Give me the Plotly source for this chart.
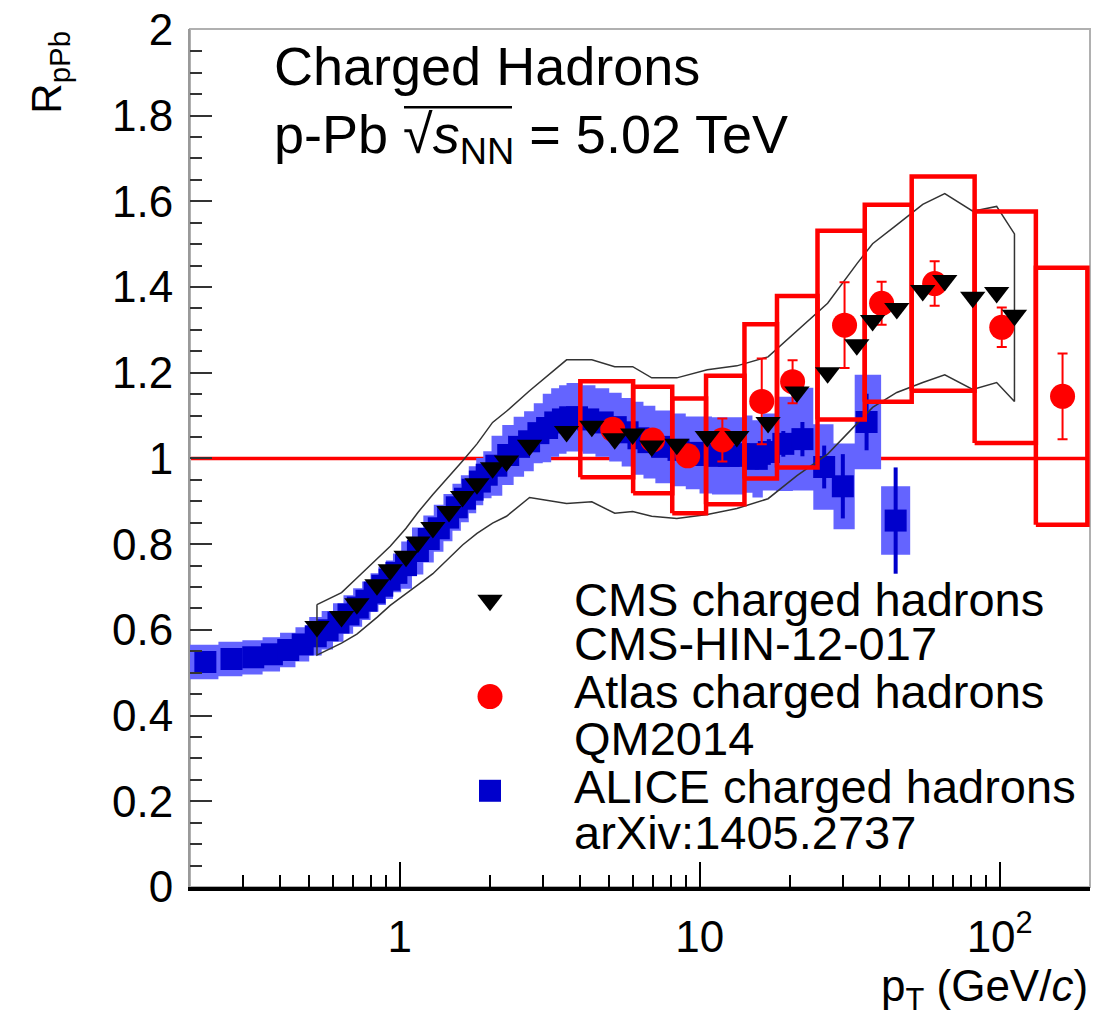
import math
import plotly.graph_objects as go

# ---------------- data ----------------
# CMS charged hadrons (CMS-HIN-12-017)
cms_pt = [0.53, 0.64, 0.72, 0.84, 0.93, 1.05, 1.15, 1.29, 1.46, 1.62, 1.81, 2.04, 2.27, 2.71,
          3.6, 4.37, 5.21, 5.98, 6.92, 8.39, 10.6, 13.3, 16.9, 21.1, 26.7, 33.4, 37.7, 45.4,
          55.4, 65.6, 81.3, 97.7, 112]
cms_rppb = [0.608, 0.631, 0.661, 0.705, 0.740, 0.772, 0.805, 0.839, 0.876, 0.911, 0.941, 0.978,
            0.994, 1.031, 1.063, 1.075, 1.046, 1.057, 1.029, 1.033, 1.051, 1.051, 1.084, 1.155,
            1.200, 1.265, 1.322, 1.350, 1.392, 1.415, 1.376, 1.387, 1.334]
# upper / lower edge of the CMS uncertainty envelope
cms_band_hi = [0.659, 0.687, 0.721, 0.765, 0.795, 0.837, 0.874, 0.916, 0.957, 0.994, 1.034, 1.084,
               1.110, 1.158, 1.230, 1.230, 1.214, 1.214, 1.188, 1.188, 1.207, 1.216, 1.237, 1.297,
               1.362, 1.454, 1.501, 1.545, 1.593, 1.618, 1.577, 1.588, 1.524]
cms_band_lo = [0.541, 0.569, 0.590, 0.629, 0.657, 0.684, 0.705, 0.731, 0.768, 0.798, 0.825, 0.849,
               0.865, 0.909, 0.895, 0.899, 0.872, 0.876, 0.865, 0.860, 0.869, 0.883, 0.906, 0.960,
               1.010, 1.080, 1.119, 1.154, 1.177, 1.195, 1.161, 1.177, 1.133]

# ATLAS charged hadrons (QM2014)
atlas_pt = [5.13, 6.97, 9.12, 11.9, 16.1, 20.4, 30.4, 40.4, 60.7, 101.6, 162]
atlas_rppb = [1.068, 1.043, 1.006, 1.043, 1.133, 1.179, 1.311, 1.362, 1.408, 1.306, 1.145]
atlas_stat = [0.02, 0.02, 0.02, 0.05, 0.10, 0.05, 0.10, 0.05, 0.052, 0.046, 0.10]
atlas_syst = [0.112, 0.124, 0.134, 0.15, 0.18, 0.20, 0.22, 0.23, 0.25, 0.27, 0.30]
atlas_bin_edges = [4.0, 6.0, 8.1, 10.5, 14.1, 18.1, 24.7, 35.5, 50.9, 82.5, 132, 196]

# ALICE charged hadrons (arXiv:1405.2737)
alice_pt = [0.175, 0.225, 0.275, 0.325, 0.375, 0.425, 0.475, 0.525, 0.575, 0.625, 0.675, 0.725,
            0.775, 0.825, 0.875, 0.925, 0.975, 1.05, 1.15, 1.25, 1.35, 1.45, 1.55, 1.65, 1.75,
            1.85, 1.95, 2.1, 2.3, 2.5, 2.7, 2.9, 3.1, 3.3, 3.5, 3.7, 3.9, 4.25, 4.75, 5.25, 5.75,
            6.25, 6.75, 7.5, 8.5, 9.5, 10.5, 11.5, 12.5, 13.5, 14.5, 15.5, 17, 19, 22, 26, 30,
            36, 45]
alice_rppb = [0.525, 0.525, 0.532, 0.536, 0.543, 0.553, 0.566, 0.585, 0.599, 0.617, 0.636, 0.652,
              0.668, 0.687, 0.703, 0.717, 0.733, 0.751, 0.784, 0.812, 0.837, 0.862, 0.886, 0.906,
              0.927, 0.946, 0.962, 0.983, 1.008, 1.027, 1.040, 1.059, 1.071, 1.084, 1.091, 1.096,
              1.096, 1.091, 1.084, 1.073, 1.061, 1.047, 1.038, 1.027, 1.020, 1.013, 1.008, 1.006,
              1.006, 1.006, 1.010, 0.999, 1.015, 1.034, 1.045, 0.980, 0.935, 1.085, 0.855]
alice_stat = [0.005] * 46 + [0.02, 0.02, 0.02, 0.02, 0.025, 0.025, 0.03, 0.03, 0.04, 0.05, 0.075,
                             0.066, 0.124]
alice_syst = [0.04, 0.04, 0.04, 0.04, 0.04, 0.04, 0.04, 0.045, 0.045, 0.045, 0.045, 0.045, 0.045,
              0.045, 0.045, 0.045, 0.045, 0.055, 0.055, 0.055, 0.055, 0.055, 0.055, 0.055, 0.055,
              0.055, 0.055, 0.07, 0.07, 0.07, 0.07, 0.07, 0.08, 0.08, 0.08, 0.08, 0.08, 0.08, 0.08,
              0.08, 0.08, 0.085, 0.085, 0.085, 0.085, 0.085, 0.09, 0.09, 0.09, 0.09, 0.09, 0.09,
              0.09, 0.11, 0.12, 0.10, 0.10, 0.11, 0.08]

unity = 1.0

y_tick_vals = [0, 0.2, 0.4, 0.6, 0.8, 1.0, 1.2, 1.4, 1.6, 1.8, 2.0]
y_tick_text = ["0", "0.2", "0.4", "0.6", "0.8", "1", "1.2", "1.4", "1.6", "1.8", "2"]
x_tick_vals = [1, 10, 100]
x_tick_text = ["1", "10", "10<sup>2</sup>"]

legend_lines = ["CMS charged hadrons", "CMS-HIN-12-017",
                "Atlas charged hadrons", "QM2014",
                "ALICE charged hadrons", "arXiv:1405.2737"]

# ---------------- styling / layout constants ----------------
W, H = 1095, 1021
L, R, T, B = 190, 5, 22, 134
PW, PH = W - L - R, H - T - B
FONT = "Liberation Sans"
ALICE_DARK = "#0000cc"
ALICE_LIGHT = "#6464ff"
RED = "#ff0000"


def px_to_paper(px, py):
    return (px - L) / PW, (H - B - py) / PH


def boxes(xlo, xhi, yc, half):
    xs, ys = [], []
    for a, b, c, h in zip(xlo, xhi, yc, half):
        xs += [a, b, b, a, a, None]
        ys += [c - h, c - h, c + h, c + h, c - h, None]
    return xs, ys


fig = go.Figure()

# ALICE systematic boxes (bin edges at log-midpoints between points)
edges = [math.sqrt(a * b) for a, b in zip(alice_pt[:-1], alice_pt[1:])]
lo_edges = [alice_pt[0] ** 2 / edges[0]] + edges
hi_edges = edges + [alice_pt[-1] ** 2 / edges[-1]]
bx, by = boxes(lo_edges, hi_edges, alice_rppb, alice_syst)
fig.add_trace(go.Scatter(x=bx, y=by, mode="lines", fill="toself", fillcolor=ALICE_LIGHT,
                         line=dict(width=0, color=ALICE_LIGHT), hoverinfo="skip",
                         showlegend=False))
# ALICE points
fig.add_trace(go.Scatter(x=alice_pt, y=alice_rppb, mode="markers",
                         marker=dict(symbol="square", size=22, color=ALICE_DARK),
                         error_y=dict(type="data", array=alice_stat, color=ALICE_DARK,
                                      thickness=4, width=0),
                         showlegend=False))

# CMS uncertainty envelope
env_x = cms_pt + cms_pt[::-1] + [cms_pt[0]]
env_y = cms_band_hi + cms_band_lo[::-1] + [cms_band_hi[0]]
fig.add_trace(go.Scatter(x=env_x, y=env_y, mode="lines",
                         line=dict(color="#333333", width=1.5), showlegend=False,
                         hoverinfo="skip"))

# ATLAS systematic boxes
ax, ay = boxes(atlas_bin_edges[:-1], atlas_bin_edges[1:], atlas_rppb, atlas_syst)
fig.add_trace(go.Scatter(x=ax, y=ay, mode="lines", line=dict(color=RED, width=4.5),
                         showlegend=False, hoverinfo="skip"))
# ATLAS points
fig.add_trace(go.Scatter(x=atlas_pt, y=atlas_rppb, mode="markers",
                         marker=dict(symbol="circle", size=25, color=RED),
                         error_y=dict(type="data", array=atlas_stat, color=RED,
                                      thickness=2, width=5),
                         showlegend=False))

# CMS points
fig.add_trace(go.Scatter(x=cms_pt, y=cms_rppb, mode="markers",
                         marker=dict(symbol="triangle-down", size=22, color="black"),
                         showlegend=False))

# legend keys on a pixel-coordinate overlay
key_x = 490
key_y = [598, 695, 790]
key_symbols = ["triangle-down", "circle", "square"]
key_colors = ["black", RED, ALICE_DARK]
key_sizes = [22, 25, 22]
for yk, sym, col, sz in zip(key_y, key_symbols, key_colors, key_sizes):
    fig.add_trace(go.Scatter(x=[key_x], y=[yk], xaxis="x2", yaxis="y2", mode="markers",
                             marker=dict(symbol=sym, size=sz, color=col),
                             showlegend=False, hoverinfo="skip"))

annotations = []
line_y = [597, 642, 690, 737, 786, 832]
for txt, yl in zip(legend_lines, line_y):
    xp, yp = px_to_paper(572, yl)
    annotations.append(dict(text=txt, x=xp, y=yp, xref="paper", yref="paper",
                            xanchor="left", yanchor="middle", showarrow=False,
                            font=dict(family=FONT, size=47, color="black")))

# header text
xp, yp = px_to_paper(272, 59)
annotations.append(dict(text="Charged Hadrons", x=xp, y=yp, xref="paper", yref="paper",
                        xanchor="left", yanchor="middle", showarrow=False,
                        font=dict(family=FONT, size=54, color="black")))
xp, yp = px_to_paper(272, 132)
annotations.append(dict(
    text="p-Pb \u221a<i>s</i><sub>NN</sub> = 5.02 TeV",
    x=xp, y=yp, xref="paper", yref="paper", xanchor="left", yanchor="middle",
    showarrow=False, font=dict(family=FONT, size=54, color="black")))

# axis titles
xp, yp = px_to_paper(1090, 990)
annotations.append(dict(text="p<sub>T</sub> (GeV/<i>c</i>)", x=xp, y=yp, xref="paper",
                        yref="paper", xanchor="right", yanchor="middle", showarrow=False,
                        font=dict(family=FONT, size=44, color="black")))
xp, yp = px_to_paper(50, 66)
annotations.append(dict(text="R<sub>pPb</sub>", x=xp, y=yp, xref="paper", yref="paper",
                        xanchor="center", yanchor="middle", textangle=-90, showarrow=False,
                        font=dict(family=FONT, size=42, color="black")))

# vinculum of the square root over s_NN
bar_x0, bar_y = px_to_paper(404, 101)
bar_x1, _ = px_to_paper(512, 101)

minor_x = [m * 10 ** e for e in range(-1, 3) for m in range(2, 10)
           if 0.2 < m * 10 ** e < 200]

fig.update_layout(
    width=W, height=H,
    margin=dict(l=L, r=R, t=T, b=B, pad=0),
    paper_bgcolor="white", plot_bgcolor="white",
    font=dict(family=FONT, color="black"),
    showlegend=False,
    annotations=annotations,
    shapes=[
        dict(type="line", xref="paper", yref="y", x0=0, x1=1, y0=unity, y1=unity,
             line=dict(color=RED, width=3.5), layer="below"),
        dict(type="rect", xref="paper", yref="paper", x0=0, x1=1, y0=0, y1=1,
             line=dict(color="#b0b0b0", width=2), layer="below"),
        dict(type="line", xref="paper", yref="paper", x0=bar_x0, x1=bar_x1,
             y0=bar_y, y1=bar_y, line=dict(color="black", width=2.5)),
    ],
    xaxis=dict(
        type="log", range=[math.log10(0.2), math.log10(200)],
        tickmode="array", tickvals=x_tick_vals, ticktext=x_tick_text,
        ticks="inside", ticklen=25, tickwidth=2, tickcolor="black",
        tickfont=dict(family=FONT, size=44, color="black"),
        ticklabelstandoff=8,
        minor=dict(tickmode="array", tickvals=minor_x, ticks="inside", ticklen=12,
                   tickwidth=2, tickcolor="black"),
        showline=True, linecolor="black", linewidth=4, mirror=False,
        showgrid=False, zeroline=False,
    ),
    yaxis=dict(
        range=[0, 2.002],
        tickmode="array", tickvals=y_tick_vals, ticktext=y_tick_text,
        ticks="inside", ticklen=22, tickwidth=2, tickcolor="#333333",
        tickfont=dict(family=FONT, size=44, color="black"),
        ticklabelstandoff=6, ticklabeloverflow="allow",
        minor=dict(dtick=0.05, ticks="inside", ticklen=12, tickwidth=2, tickcolor="#333333"),
        showline=True, linecolor="#999999", linewidth=2, mirror=False,
        showgrid=False, zeroline=False,
    ),
    xaxis2=dict(overlaying="x", range=[L, L + PW], visible=False, fixedrange=True),
    yaxis2=dict(overlaying="y", range=[H - B, T], visible=False, fixedrange=True),
)

fig.write_html("out.html")
